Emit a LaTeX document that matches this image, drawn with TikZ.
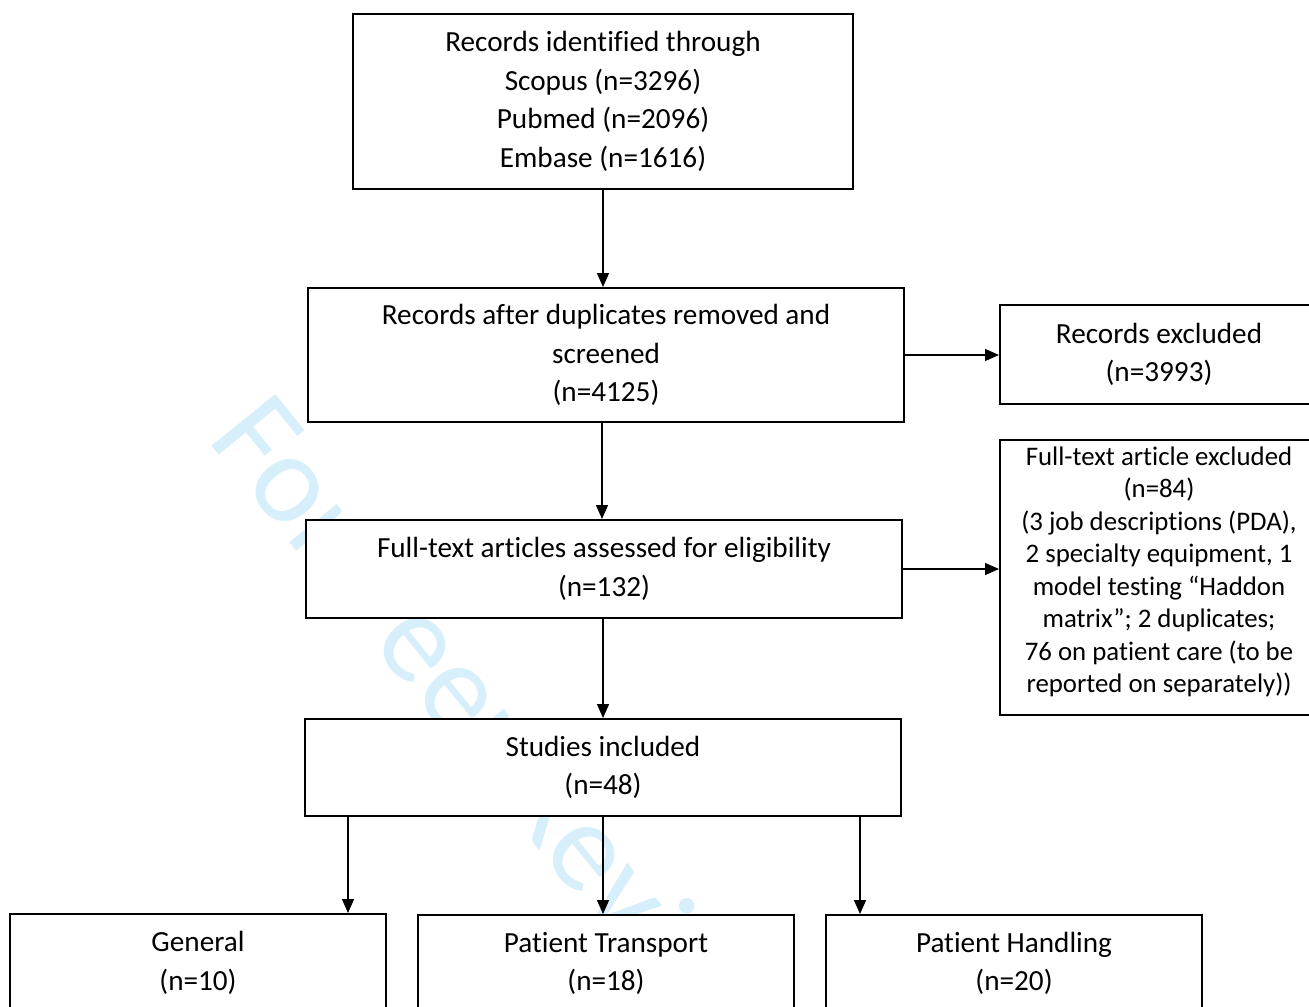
\documentclass[tikz,border=0pt]{standalone}
\usepackage{fontspec}
\setmainfont{Carlito}[Ligatures={NoCommon,NoContextual}]
\usetikzlibrary{arrows.meta}
\definecolor{wmcol}{RGB}{214,239,251}
\begin{document}
\begin{tikzpicture}[x=0.5pt,y=-0.5pt,
  box/.style={draw,line width=1pt,fill=white,inner sep=0pt,align=center,
    font=\fontsize{14.6}{19.25}\selectfont},
  boxtext/.style={inner sep=0pt,align=center,font=\fontsize{13.4}{16.25}\selectfont},
  arr/.style={-{Triangle[length=7pt,width=6pt]},line width=0.65pt}]
\useasboundingbox (0,0) rectangle (1309,1006);
\clip (0,0) rectangle (1309,1006);
\node[rotate=-51,anchor=base west,inner sep=0pt,text=wmcol,
  font=\fontsize{64}{64}\selectfont] (wmk) at (206,439) {For Peer Review};
\node[box,minimum width=250pt,minimum height=87.5pt] (top) at (603,101.5)
  {Records identified through\\Scopus (n=3296)\\Pubmed (n=2096)\\Embase (n=1616)};
\node[box,minimum width=298pt,minimum height=67pt] (dup) at (606,355)
  {Records after duplicates removed and\\screened\\(n=4125)};
\node[box,minimum width=159pt,minimum height=49.5pt] (excl) at (1159,354.5)
  {Records excluded\\(n=3993)};
\node[box,minimum width=298pt,minimum height=49pt] (ft) at (604,569)
  {Full-text articles assessed for eligibility\\(n=132)};
\node[box,minimum width=159pt,minimum height=137.5pt] (ex2) at (1159,577.5) {};
\node[boxtext] (ex2t) at (1159,572)
  {Full-text article excluded\\(n=84)\\(3 job descriptions (PDA),\\2 specialty equipment, 1\\model testing “Haddon\\matrix”; 2 duplicates;\\76 on patient care (to be\\reported on separately))};
\node[box,minimum width=298pt,minimum height=48.5pt] (stud) at (603,767.5)
  {Studies included\\(n=48)};
\node[box,minimum width=188pt,minimum height=49pt] (gen) at (198,963)
  {General\\(n=10)};
\node[box,minimum width=188pt,minimum height=48.5pt] (pt) at (606,963.5)
  {Patient Transport\\(n=18)};
\node[box,minimum width=188pt,minimum height=48.5pt] (ph) at (1014,963.5)
  {Patient Handling\\(n=20)};
\draw[arr] (top.south) -- (top.south |- dup.north);
\draw[arr] ([xshift=-2pt]dup.south) -- ([xshift=-2pt]dup.south |- ft.north);
\draw[arr] (stud.north |- ft.south) -- (stud.north);
\draw[arr] (dup.east) -- (dup.east -| excl.west);
\draw[arr] (ft.east) -- (ft.east -| ex2.west);
\draw[arr] ([xshift=22pt]stud.south west) -- ([xshift=22pt]stud.south west |- gen.north);
\draw[arr] (stud.south) -- (stud.south |- pt.north);
\draw[arr] ([xshift=-21pt]stud.south east) -- ([xshift=-21pt]stud.south east |- ph.north);
\end{tikzpicture}
\end{document}
